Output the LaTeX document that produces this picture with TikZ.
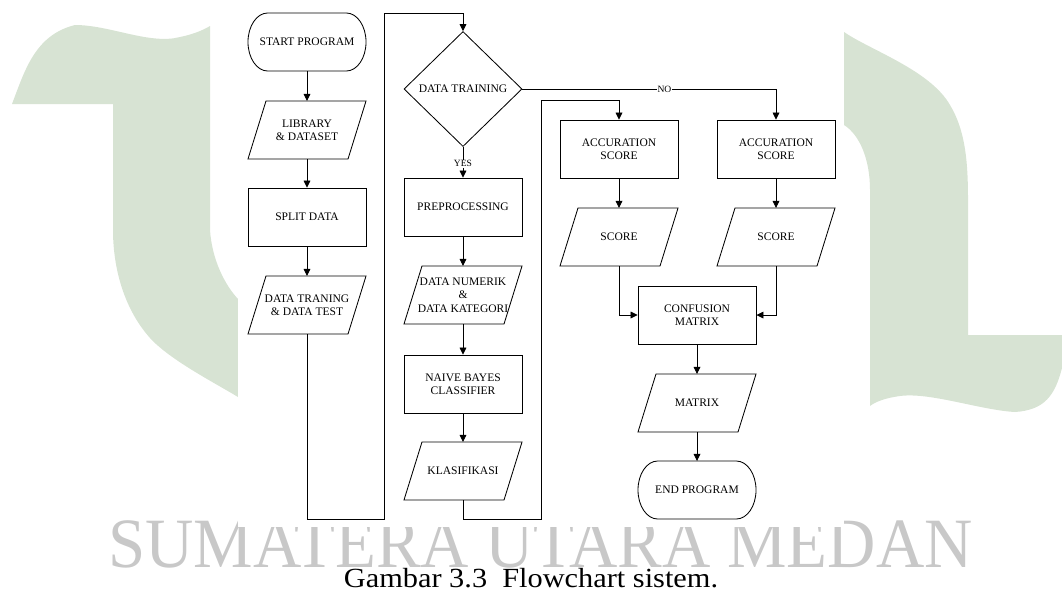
\documentclass[tikz,border=0pt]{standalone}
\usepackage{fontspec}
\setmainfont{Liberation Serif}
\usepackage{graphicx}
\usetikzlibrary{shapes.geometric,arrows.meta}

\definecolor{wmgreen}{RGB}{215,227,211}
\definecolor{wmgray}{RGB}{200,200,200}

\begin{document}
\begin{tikzpicture}[x=0.025cm,y=-0.025cm,
  every node/.style={font=\fontsize{8.2}{9.6}\selectfont,align=center,line width=0.6pt,inner sep=1pt},
  terminal/.style={rectangle,outer sep=0pt,minimum width=2.95cm,minimum height=1.45cm,
    append after command={\pgfextra{\draw[line width=0.6pt]
      ([xshift=14pt]\tikzlastnode.north west) -- ([xshift=-14pt]\tikzlastnode.north east)
      arc[start angle=90,end angle=-90,x radius=14pt,y radius=0.725cm]
      -- ([xshift=14pt]\tikzlastnode.south west)
      arc[start angle=270,end angle=90,x radius=14pt,y radius=0.725cm] -- cycle;}}},
  process/.style={draw,rectangle,minimum width=2.95cm,minimum height=1.45cm},
  inout/.style={rectangle,outer sep=0pt,minimum width=2.5cm,minimum height=1.45cm,
    append after command={\pgfextra{\draw[line width=0.6pt]
      ([xshift=-0.225cm]\tikzlastnode.south west) -- ([xshift=0.225cm]\tikzlastnode.north west)
      -- ([xshift=0.225cm]\tikzlastnode.north east) -- ([xshift=-0.225cm]\tikzlastnode.south east)
      -- cycle;}}},
  decision/.style={draw,diamond,minimum width=2.95cm,minimum height=2.875cm},
  flow/.style={line width=0.6pt,-{Triangle[length=5pt,width=4.8pt]}},
  answer/.style={fill=white,inner sep=0.5pt,font=\fontsize{6.8}{8}\selectfont}]

  \useasboundingbox (0,0) rectangle (1062,588);

  % watermark behind the chart
  \fill[wmgreen] (12,104) .. controls (25,70) and (35,35) .. (75,25)
    .. controls (110,25) and (150,45) .. (180,37) .. controls (195,34) and (205,29) .. (210,26)
    -- (210,230) .. controls (212,260) and (225,285) .. (238,299) -- (238,397)
    .. controls (215,383) and (170,360) .. (150,338) .. controls (125,310) and (113,270) .. (113,230)
    -- (113,104) -- cycle;
  \fill[wmgreen] (844,32) .. controls (870,50) and (930,70) .. (950,105)
    .. controls (965,130) and (968,160) .. (968,200) -- (968,335) -- (1062,335) -- (1062,368)
    .. controls (1055,395) and (1045,410) .. (1015,412) .. controls (980,410) and (930,392) .. (900,396)
    .. controls (885,398) and (875,402) .. (870,406) -- (870,190)
    .. controls (870,160) and (860,135) .. (844,125) -- cycle;
  \node[anchor=base west,inner sep=0,text=wmgray] (wm) at (108,567)
    {\resizebox{21.6cm}{1.17cm}{SUMATERA UTARA MEDAN}};
  \fill[white] (238,0) rectangle (844,527);

  % Specification of nodes (position, etc.)
  \node[terminal] (start) at (307,42) {START PROGRAM};
  \node[inout] (lib) at (307,130) {LIBRARY\\\& DATASET};
  \node[process] (split) at (307,217) {SPLIT DATA};
  \node[inout] (traintest) at (307,305) {DATA TRANING\\\& DATA TEST};

  \node[decision] (dtrain) at (463,89) {DATA TRAINING};
  \node[process] (prep) at (463,207) {PREPROCESSING};
  \node[inout] (numcat) at (463,295) {DATA NUMERIK\\\&\\DATA KATEGORI};
  \node[process] (nbc) at (463,384) {NAIVE BAYES\\CLASSIFIER};
  \node[inout] (klas) at (463,471) {KLASIFIKASI};

  \node[process] (acc1) at (619,149) {ACCURATION\\SCORE};
  \node[process] (acc2) at (776,149) {ACCURATION\\SCORE};
  \node[inout] (score1) at (619,237) {SCORE};
  \node[inout] (score2) at (776,237) {SCORE};
  \node[process] (cmatrix) at (697,315) {CONFUSION\\MATRIX};
  \node[inout] (matrix) at (697,403) {MATRIX};
  \node[terminal] (end) at (697,490) {END PROGRAM};

  \coordinate (loop1a) at (384,519);
  \coordinate (loop1b) at (384,13);
  \coordinate (loop2a) at (541,519);
  \coordinate (loop2b) at (541,100);

  \begin{scope}[flow]
    \draw (start) -- (lib);
    \draw (lib) -- (split);
    \draw (split) -- (traintest);
    \draw (traintest.south) |- (loop1a) -- (loop1b) -| (dtrain.north);
    \draw (dtrain.south) -- node[answer,pos=0.55] {YES} (prep.north);
    \draw (dtrain.east) -| node[answer,pos=0.28] {NO} (acc2.north);
    \draw (prep) -- (numcat);
    \draw (numcat) -- (nbc);
    \draw (nbc) -- (klas);
    \draw (klas.south) |- (loop2a) -- (loop2b) -| (acc1.north);
    \draw (acc1) -- (score1);
    \draw (acc2) -- (score2);
    \draw (score1.south) |- (cmatrix.west);
    \draw (score2.south) |- (cmatrix.east);
    \draw (cmatrix) -- (matrix);
    \draw (matrix) -- (end);
  \end{scope}

  \node[anchor=base,inner sep=0] (caption) at (531,587)
    {\resizebox{9.35cm}{0.48cm}{Gambar 3.3\ \ Flowchart sistem.}};

\end{tikzpicture}
\end{document}
